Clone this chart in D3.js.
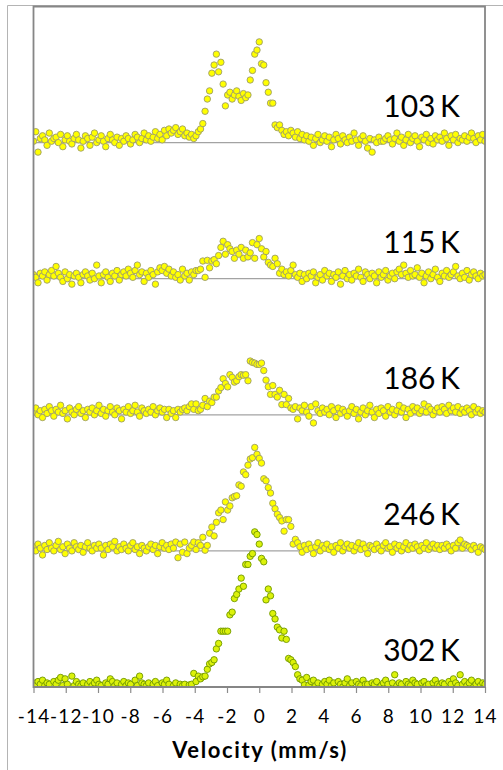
<!DOCTYPE html>
<html>
<head>
<meta charset="utf-8">
<script src="https://cdn.jsdelivr.net/npm/d3@7"></script>
<style>
  html, body { margin: 0; padding: 0; background: #fff; }
  svg { display: block; }
</style>
</head>
<body>
<svg id="chart" width="503" height="770"></svg>
<script>
// Mössbauer spectra, channel velocities in mm/s
const velocity = [
  -14,-13.86,-13.72,-13.58,-13.44,-13.3,-13.16,-13.02,-12.88,-12.74,
  -12.6,-12.46,-12.32,-12.18,-12.04,-11.9,-11.76,-11.62,-11.48,-11.34,
  -11.2,-11.06,-10.92,-10.78,-10.64,-10.5,-10.36,-10.22,-10.08,-9.94,
  -9.8,-9.66,-9.52,-9.38,-9.24,-9.1,-8.96,-8.82,-8.68,-8.54,
  -8.4,-8.26,-8.12,-7.98,-7.84,-7.7,-7.56,-7.42,-7.28,-7.14,
  -7,-6.86,-6.72,-6.58,-6.44,-6.3,-6.16,-6.02,-5.88,-5.74,
  -5.6,-5.46,-5.32,-5.18,-5.04,-4.9,-4.76,-4.62,-4.48,-4.34,
  -4.2,-4.06,-3.92,-3.78,-3.64,-3.5,-3.36,-3.22,-3.08,-2.94,
  -2.8,-2.66,-2.52,-2.38,-2.24,-2.1,-1.96,-1.82,-1.68,-1.54,
  -1.4,-1.26,-1.12,-0.98,-0.84,-0.7,-0.56,-0.42,-0.28,-0.14,
  0,0.14,0.28,0.42,0.56,0.7,0.84,0.98,1.12,1.26,
  1.4,1.54,1.68,1.82,1.96,2.1,2.24,2.38,2.52,2.66,
  2.8,2.94,3.08,3.22,3.36,3.5,3.64,3.78,3.92,4.06,
  4.2,4.34,4.48,4.62,4.76,4.9,5.04,5.18,5.32,5.46,
  5.6,5.74,5.88,6.02,6.16,6.3,6.44,6.58,6.72,6.86,
  7,7.14,7.28,7.42,7.56,7.7,7.84,7.98,8.12,8.26,
  8.4,8.54,8.68,8.82,8.96,9.1,9.24,9.38,9.52,9.66,
  9.8,9.94,10.08,10.22,10.36,10.5,10.64,10.78,10.92,11.06,
  11.2,11.34,11.48,11.62,11.76,11.9,12.04,12.18,12.32,12.46,
  12.6,12.74,12.88,13.02,13.16,13.3,13.44,13.58,13.72,13.86,
  14
];

// Relative absorption (%) for each temperature
const abs103K = [
  0.1,0.8,-0.7,0.3,0.5,0.2,-0.2,0.7,0.1,0.3,
  0.4,0.0,0.6,-0.3,0.2,0.5,0.1,-0.1,0.3,0.6,
  0.2,-0.4,0.1,0.5,0.3,-0.2,0.4,0.7,0.0,0.2,
  0.5,0.1,-0.3,0.3,0.6,0.2,0.0,0.4,-0.2,0.3,
  0.1,0.5,0.3,-0.1,0.2,0.6,0.4,0.0,0.3,0.7,
  0.2,0.5,0.1,0.4,0.8,0.3,0.6,0.2,0.9,0.5,
  1.0,0.7,0.9,1.1,0.6,0.8,1.0,0.5,0.7,0.4,
  0.6,0.3,0.5,0.8,1.0,1.4,2.3,3.2,3.8,5.1,
  5.7,6.5,5.2,5.9,4.3,2.7,3.5,3.7,3.2,3.5,
  3.8,3.4,3.1,3.6,3.3,3.5,4.6,5.3,6.5,6.8,
  7.4,5.8,5.7,4.4,3.7,2.9,2.9,1.3,1.1,1.3,
  0.9,0.6,0.8,0.5,0.9,0.7,0.4,0.8,0.3,0.6,
  0.2,0.5,0.1,0.4,-0.2,0.3,0.6,0.0,0.2,0.5,
  0.1,0.4,-0.3,0.2,0.6,0.3,-0.1,0.5,0.2,0.0,
  0.4,0.1,0.7,0.2,-0.2,0.3,0.5,0.1,-0.4,0.3,
  -0.7,0.2,0.0,0.4,0.1,0.1,0.3,0.5,0.2,-0.1,
  0.3,0.7,0.1,0.4,-0.2,0.2,0.6,0.0,0.3,0.5,
  0.1,-0.3,0.4,0.2,0.6,0.0,0.3,-0.1,0.5,0.2,
  0.4,0.1,0.7,0.3,-0.2,0.5,0.2,0.6,0.0,0.3,
  0.2,0.5,0.1,0.4,0.7,0.3,0.0,0.5,0.2,0.6,
  0.1
];
const abs115K = [
  0.3,0.1,-0.3,0.4,0.2,0.5,-0.1,0.3,0.6,0.2,
  0.9,0.4,0.1,-0.2,0.5,0.0,0.3,-0.4,0.2,0.4,
  0.1,-0.3,0.3,0.5,0.2,-0.1,0.4,0.0,1.0,0.2,
  -0.3,0.3,0.5,0.1,-0.2,0.4,0.2,0.6,-0.1,0.3,
  0.5,0.2,0.7,0.4,0.1,0.6,1.0,0.3,0.5,-0.2,
  0.4,0.1,0.6,0.3,-0.4,0.5,0.8,0.6,0.9,0.4,
  0.7,0.2,0.5,0.1,0.3,-0.1,0.7,0.2,0.4,-0.1,
  0.5,0.3,0.6,0.6,0.7,1.3,0.1,1.35,0.8,1.3,
  1.4,1.1,1.7,2.3,2.75,1.8,2.5,2.2,2.0,1.5,
  2.1,1.8,2.3,1.5,2.1,1.6,1.9,2.65,1.5,2.5,
  2.95,2.2,1.6,2.0,1.2,1.0,0.9,1.5,1.1,0.4,
  0.7,0.3,0.5,0.2,0.6,1.0,0.3,0.1,0.4,-0.2,
  0.3,0.0,0.4,0.2,0.5,-0.3,0.1,0.3,-0.1,0.6,
  0.2,0.4,-0.2,0.3,0.1,0.5,-0.4,0.2,0.6,0.0,
  0.3,-0.1,0.4,0.2,0.7,0.1,-0.2,0.5,0.3,0.0,
  0.4,0.2,-0.3,0.5,0.1,0.3,0.6,-0.1,0.2,0.4,
  0.0,0.5,0.7,0.3,1.0,0.4,0.1,0.6,0.2,0.3,
  0.8,0.1,0.4,-0.3,0.2,0.5,0.0,0.3,0.7,0.1,
  -0.2,0.4,0.2,0.6,0.1,0.3,0.5,0.9,0.2,0.0,
  0.4,0.1,0.6,-0.1,0.3,0.5,0.2,0.0,0.4,0.2,
  0.3
];
const abs186K = [
  0.2,0.5,0.0,0.3,-0.2,0.4,0.1,0.6,0.3,-0.1,
  0.4,0.2,0.7,0.1,0.3,-0.3,0.5,0.2,0.0,0.4,
  0.6,0.1,0.3,-0.2,0.4,0.2,0.5,0.0,0.3,0.7,
  0.1,0.4,-0.1,0.3,0.6,0.2,0.0,0.5,0.3,-0.3,
  0.4,0.2,0.6,0.1,0.3,0.7,0.2,-0.1,0.5,0.3,
  0.1,0.4,0.2,0.6,0.0,0.3,0.5,0.2,0.4,-0.2,
  0.4,0.1,0.3,-0.2,0.4,0.2,0.4,0.5,0.3,0.6,
  0.8,0.4,0.8,0.3,0.4,0.7,1.2,0.6,1.0,0.9,
  1.3,1.3,1.75,2.0,2.65,2.3,2.05,2.95,2.75,2.4,
  2.5,2.8,2.95,2.9,2.95,2.5,3.95,3.85,3.8,3.7,
  3.7,3.8,3.25,2.55,2.06,1.5,2.15,1.5,1.3,1.8,
  0.75,1.5,0.75,1.2,0.5,0.4,0.6,-0.3,0.5,0.3,
  0.7,0.2,-0.1,0.6,-0.6,0.8,0.3,0.1,0.5,0.2,
  0.4,0.0,0.6,0.3,-0.2,0.5,0.1,0.4,0.2,-0.1,
  0.3,0.6,0.1,0.4,-0.3,0.2,0.5,0.0,0.3,0.7,
  0.2,-0.2,0.4,0.1,0.5,0.3,-0.1,0.6,0.2,0.4,
  0.0,0.3,0.7,0.2,0.5,-0.2,0.4,0.1,0.6,0.3,
  0.5,0.1,0.3,0.8,0.2,0.6,0.4,0.0,0.3,0.5,
  0.2,0.6,0.4,0.1,0.7,0.3,0.5,0.2,0.6,0.1,
  0.4,0.2,0.5,0.3,0.0,0.6,0.2,0.4,0.1,0.3,
  0.2
];
const abs246K = [
  0.3,0.0,0.5,0.2,-0.3,0.4,0.1,0.6,0.2,0.0,
  0.4,0.7,0.1,0.3,-0.2,0.5,0.2,0.0,0.6,0.3,
  0.1,0.4,-0.1,0.3,0.6,0.2,0.0,0.4,0.2,0.5,
  0.2,-0.3,0.4,0.1,0.5,0.3,0.7,0.0,0.3,0.1,
  0.5,0.2,0.0,0.4,0.6,0.1,0.3,-0.2,0.4,0.2,
  0.0,0.3,0.5,0.1,0.4,-0.2,0.3,0.6,0.2,0.4,
  0.1,0.5,0.2,0.65,-0.5,0.5,-0.1,0.65,-0.2,0.2,
  0.4,0.65,0.1,0.6,0.4,1.0,0.05,0.4,1.3,1.75,
  1.1,2.1,2.8,3.0,2.3,3.6,3.0,3.3,3.9,4.0,
  4.05,4.85,4.75,5.8,5.6,6.3,6.75,6.85,7.6,7.1,
  6.8,6.45,5.3,5.15,4.65,4.25,3.5,3.1,2.7,2.45,
  2.2,1.45,2.3,2.3,1.8,0.5,0.85,0.6,0.3,-0.1,
  0.4,0.1,0.5,0.2,-0.2,0.3,0.6,0.0,0.4,0.2,
  0.5,0.1,0.3,-0.1,0.4,0.2,0.6,0.0,0.3,0.5,
  0.2,0.4,0.0,0.3,0.6,0.1,0.5,0.2,-0.2,0.4,
  0.3,0.1,0.5,0.2,0.0,0.4,0.6,0.2,0.3,-0.1,
  0.5,0.2,0.4,0.0,0.3,0.6,0.1,0.4,0.2,0.5,
  0.3,0.0,0.4,0.2,0.6,0.1,0.3,0.5,0.2,0.4,
  0.1,0.4,0.2,0.5,0.3,0.0,0.4,0.2,0.6,0.8,
  0.2,0.5,0.4,0.3,0.1,0.4,0.2,-0.1,0.3,0.2,
  0.1
];
const abs302K = [
  0.3,0.1,0.4,0.2,0.5,0.1,0.3,0.2,-0.3,0.4,
  0.2,0.5,0.7,0.1,0.6,0.2,-0.4,0.8,0.1,0.4,
  0.2,0.1,0.3,-0.5,0.2,0.4,0.1,0.3,0.5,0.2,
  0.1,-0.4,0.3,0.2,0.6,0.4,0.1,0.3,-0.3,0.2,
  0.4,0.1,0.3,0.2,-0.5,0.5,0.1,0.8,0.3,0.2,
  0.1,0.3,-0.4,0.2,0.4,0.1,-0.3,0.3,0.2,0.5,
  0.2,-0.3,0.1,0.3,-0.2,0.2,0.1,0.2,-0.4,0.15,
  0.2,1.0,0.4,0.8,0.6,0.75,0.8,1.3,1.7,1.8,
  2.0,2.8,3.2,4.1,4.1,4.1,4.1,5.3,5.5,6.5,
  6.8,7.2,8.0,7.4,9.0,9.0,9.6,9.8,11.4,11.2,
  10.5,9.45,9.2,6.4,7.2,6.7,5.4,5.0,4.4,4.2,
  3.6,4.1,3.5,2.1,2.0,1.8,1.5,0.9,0.6,0.5,
  0.15,0.7,0.15,0.4,0.5,0.1,0.3,-0.3,0.2,0.4,
  0.2,0.5,0.1,0.3,-0.4,0.4,0.2,0.0,0.3,0.6,
  0.1,0.3,-0.3,0.4,0.2,0.1,0.5,0.2,0.2,-0.2,
  0.3,0.2,0.4,-0.2,0.1,0.3,0.5,0.2,-0.4,0.3,
  0.9,0.1,0.3,0.2,-0.3,0.4,0.2,0.1,0.5,0.3,
  0.2,-0.2,0.3,0.4,0.1,0.2,-0.4,0.3,0.5,0.2,
  0.1,0.3,0.2,-0.3,0.4,0.2,0.6,0.3,0.1,0.9,
  0.2,0.4,0.1,0.3,0.5,0.0,0.2,0.4,0.1,0.3,
  0.2
];

const temperatureLabels = ["103 K", "115 K", "186 K", "246 K", "302 K"];
const stackOffsets = [40, 30, 20, 10, 0];
const velocityTicks = [-14, -12, -10, -8, -6, -4, -2, 0, 2, 4, 6, 8, 10, 12, 14];
const spectra = [abs103K, abs115K, abs186K, abs246K, abs302K];

const svg = d3.select("#chart");
const W = 503, H = 770;
const plot = { left: 33.5, right: 485, top: 6.5, bottom: 687 };

const x = d3.scaleLinear().domain([-14, 14]).range([plot.left, plot.right]);
const y = d3.scaleLinear().domain([0, 50]).range([plot.bottom, plot.top]);

// outer chart border
svg.append("path")
  .attr("d", `M7.5,${H} V5.5 H${W}`)
  .attr("fill", "none")
  .attr("stroke", "#b4b4b4")
  .attr("stroke-width", 1);

svg.append("defs").append("clipPath").attr("id", "plotClip")
  .append("rect")
  .attr("x", plot.left).attr("y", plot.top)
  .attr("width", plot.right - plot.left).attr("height", plot.bottom - plot.top);

// zero lines for the stacked spectra
svg.append("g").selectAll("line")
  .data(stackOffsets.slice(0, 4))
  .join("line")
  .attr("x1", plot.left).attr("x2", plot.right)
  .attr("y1", d => y(d)).attr("y2", d => y(d))
  .attr("stroke", "#a3a3a3")
  .attr("stroke-width", 1.3);

// x axis
const xAxis = svg.append("g")
  .attr("transform", `translate(0,${plot.bottom})`)
  .call(d3.axisBottom(x).tickValues(velocityTicks).tickSize(6).tickSizeOuter(0).tickFormat(d => String(d)));
xAxis.select(".domain").remove();
xAxis.selectAll(".tick line").attr("stroke", "#8c8c8c").attr("stroke-width", 1.2);
xAxis.selectAll(".tick text")
  .attr("y", 36).attr("dy", null)
  .attr("fill", "#000")
  .style("font-family", "Lato, 'Open Sans', sans-serif")
  .style("font-size", "19px")
  .style("letter-spacing", "1.2px");

// data points
const markerStyles = [
  { fill: "#ffff00", stroke: "#9c9c6a" },
  { fill: "#ffff00", stroke: "#9c9c6a" },
  { fill: "#ffff00", stroke: "#9c9c6a" },
  { fill: "#ffff00", stroke: "#9c9c6a" },
  { fill: "#dcf20a", stroke: "#6f9600" }
];
const pts = svg.append("g").attr("clip-path", "url(#plotClip)");
spectra.forEach((series, k) => {
  pts.append("g").selectAll("circle")
    .data(series.map((v, i) => ({ v: velocity[i], a: v })))
    .join("circle")
    .attr("cx", d => x(d.v))
    .attr("cy", d => y(stackOffsets[k] + d.a))
    .attr("r", 3.2)
    .attr("fill", markerStyles[k].fill)
    .attr("stroke", markerStyles[k].stroke)
    .attr("stroke-width", 0.9);
});

// plot frame
svg.append("path")
  .attr("d", `M${plot.left},${plot.bottom} V${plot.top} H${plot.right} V${plot.bottom} Z`)
  .attr("fill", "none")
  .attr("stroke", "#868686")
  .attr("stroke-width", 1.8);

// temperature labels
svg.append("g").selectAll("text")
  .data(temperatureLabels)
  .join("text")
  .attr("x", 460)
  .attr("y", (d, i) => y(stackOffsets[i]) - 26)
  .attr("text-anchor", "end")
  .attr("fill", "#000")
  .style("font-family", "Lato, 'Open Sans', sans-serif")
  .style("font-size", "30px")
  .style("word-spacing", "-3px")
  .text(d => d);

// axis title
svg.append("text")
  .attr("x", 260).attr("y", 758)
  .attr("text-anchor", "middle")
  .attr("fill", "#000")
  .style("font-family", "Lato, 'Open Sans', sans-serif")
  .style("font-weight", "bold")
  .style("font-size", "22px")
  .style("letter-spacing", "1.6px")
  .text("Velocity (mm/s)");
</script>
</body>
</html>
